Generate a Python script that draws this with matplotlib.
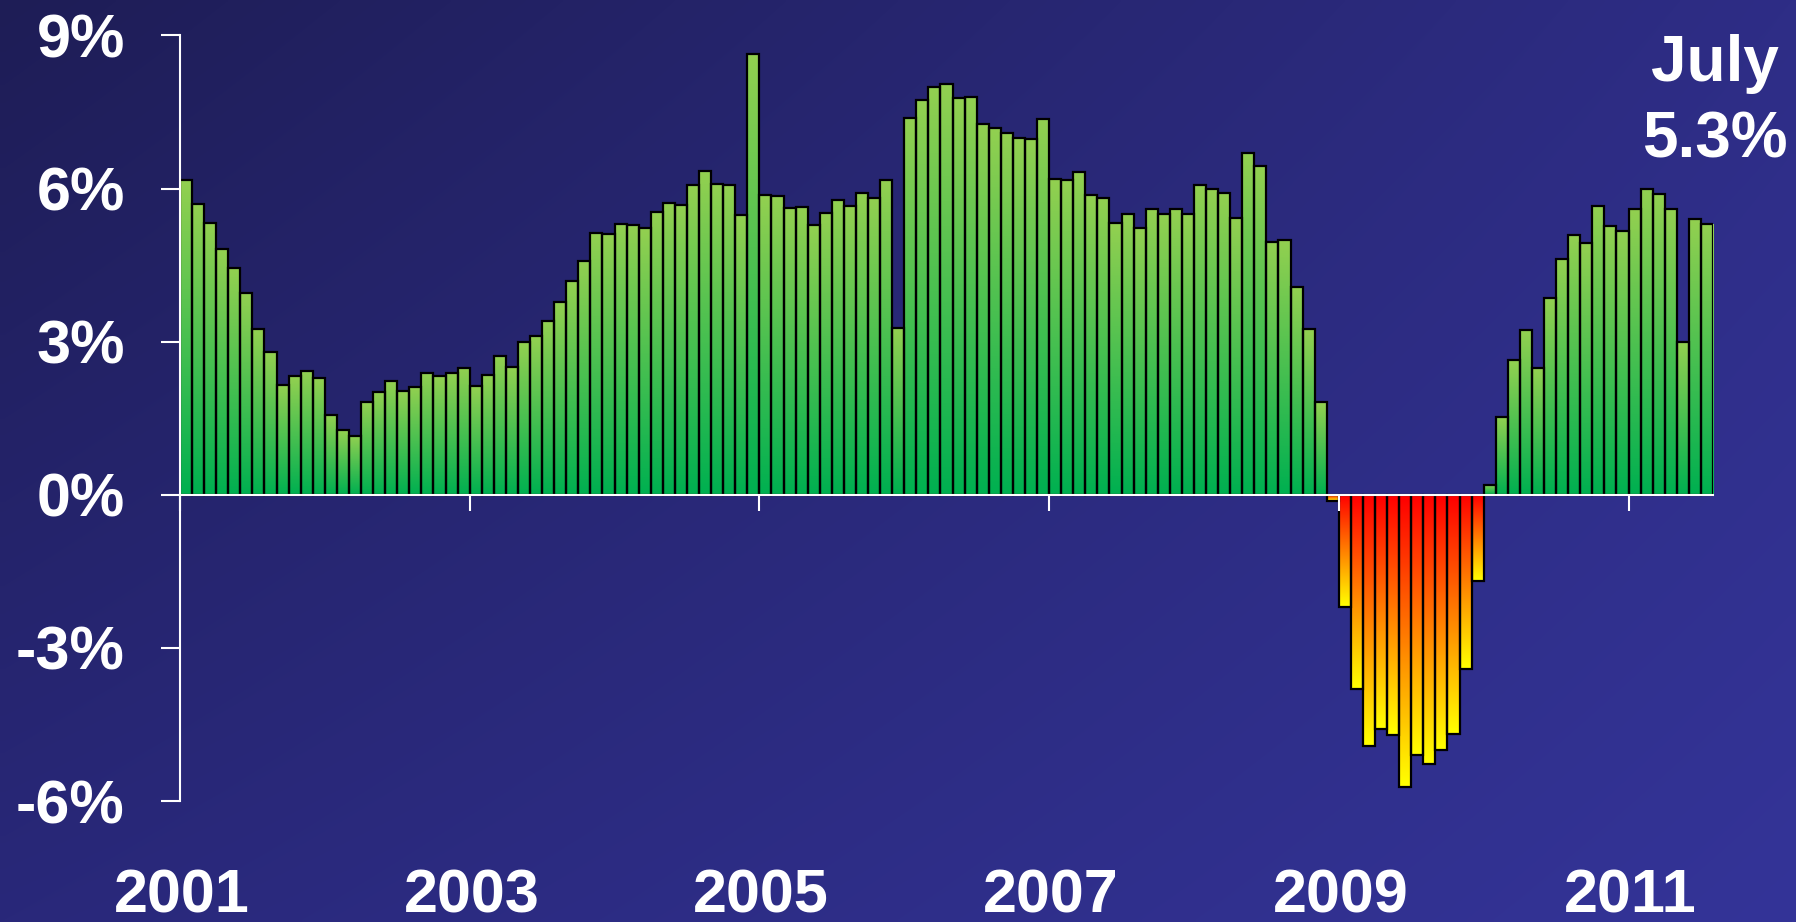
import numpy as np
import matplotlib
matplotlib.use("Agg")
import matplotlib.pyplot as plt
from matplotlib.colors import to_rgb
from matplotlib.transforms import blended_transform_factory

# Year-over-year change by month, Jan 2001 - Jul 2011 (%)
yoy_2001 = [6.16, 5.69, 5.33, 4.81, 4.44, 3.96, 3.24, 2.79, 2.15, 2.32, 2.43, 2.29]
yoy_2002 = [1.57, 1.27, 1.16, 1.82, 2.02, 2.22, 2.03, 2.12, 2.39, 2.32, 2.39, 2.49]
yoy_2003 = [2.13, 2.35, 2.72, 2.50, 2.99, 3.11, 3.41, 3.77, 4.18, 4.59, 5.13, 5.11]
yoy_2004 = [5.31, 5.29, 5.23, 5.54, 5.71, 5.68, 6.07, 6.34, 6.08, 6.07, 5.48, 8.64]
yoy_2005 = [5.87, 5.85, 5.61, 5.63, 5.29, 5.53, 5.78, 5.65, 5.92, 5.82, 6.16, 3.27]
yoy_2006 = [7.39, 7.73, 7.98, 8.05, 7.78, 7.79, 7.27, 7.19, 7.08, 6.99, 6.98, 7.37]
yoy_2007 = [6.19, 6.17, 6.33, 5.87, 5.82, 5.32, 5.50, 5.23, 5.60, 5.51, 5.59, 5.50]
yoy_2008 = [6.06, 5.99, 5.91, 5.42, 6.70, 6.45, 4.96, 5.00, 4.07, 3.24, 1.81, -0.13]
yoy_2009 = [-2.20, -3.80, -4.93, -4.58, -4.71, -5.72, -5.10, -5.28, -4.99, -4.68, -3.41, -1.68]
yoy_2010 = [0.20, 1.53, 2.64, 3.23, 2.48, 3.86, 4.61, 5.09, 4.93, 5.66, 5.27, 5.16]
yoy_2011 = [5.60, 6.00, 5.90, 5.60, 3.00, 5.40, 5.30]

year_labels = ["2001", "2003", "2005", "2007", "2009", "2011"]
y_ticks = [-6, -3, 0, 3, 6, 9]
latest_month = "July"

values = np.array(yoy_2001 + yoy_2002 + yoy_2003 + yoy_2004 + yoy_2005 + yoy_2006
                  + yoy_2007 + yoy_2008 + yoy_2009 + yoy_2010 + yoy_2011)
n = len(values)

plt.rcParams["font.family"] = ["Liberation Sans", "DejaVu Sans"]
plt.rcParams["font.weight"] = "bold"

W, H = 1796, 922
fig = plt.figure(figsize=(W / 100, H / 100), dpi=100)

# Slide background: navy gradient, darker toward the upper left
bg = fig.add_axes([0, 0, 1, 1])
bg.set_axis_off()
tl, tr = np.array(to_rgb("#1e1d56")), np.array(to_rgb("#2e2d86"))
bl, br = np.array(to_rgb("#29287a")), np.array(to_rgb("#343498"))
u = np.linspace(0, 1, 200)[None, :, None]
v = np.linspace(0, 1, 200)[:, None, None]
grad_bg = (1 - v) * ((1 - u) * tl + u * tr) + v * ((1 - u) * bl + u * br)
bg.imshow(grad_bg, extent=(0, 1, 0, 1), aspect="auto", origin="upper",
          interpolation="bilinear")
bg.set_xlim(0, 1)
bg.set_ylim(0, 1)

# Plot area
left_px, right_px, top_px, bottom_px = 180, 1713, 35.4, 801.1
ax = fig.add_axes([left_px / W, (H - bottom_px) / H,
                   (right_px - left_px) / W, (bottom_px - top_px) / H])
ax.set_facecolor("none")

x = np.arange(n)
bars = ax.bar(x, values, width=1.0, align="edge", facecolor="none",
              edgecolor="black", linewidth=1.6, zorder=2)

green_lo, green_hi = np.array(to_rgb("#00b050")), np.array(to_rgb("#92d050"))
red_top, yellow_bot = np.array(to_rgb("#ff0000")), np.array(to_rgb("#ffff00"))
t = np.linspace(0, 1, 64)[:, None, None]
green_grad = (1 - t) * green_lo + t * green_hi      # bottom -> top
neg_grad = (1 - t) * yellow_bot + t * red_top       # bottom -> top

for xi, val, bar in zip(x, values, bars):
    if val >= 0:
        img, lo, hi = green_grad, 0.0, val
    else:
        img, lo, hi = neg_grad, val, 0.0
    im = ax.imshow(img, extent=(xi, xi + 1, lo, hi), aspect="auto",
                   origin="lower", interpolation="bilinear", zorder=1.5)
    im.set_clip_path(bar)

ax.set_xlim(0, n)
ax.set_ylim(-6, 9)
ax.set_axisbelow(False)

for side in ("top", "right"):
    ax.spines[side].set_visible(False)
ax.spines["left"].set_color("white")
ax.spines["left"].set_linewidth(1.5)
ax.spines["left"].set_bounds(-6, 9)
ax.spines["bottom"].set_position(("data", 0))
ax.spines["bottom"].set_color("white")
ax.spines["bottom"].set_linewidth(1.5)
for sp in ax.spines.values():
    sp.set_zorder(5)

ax.set_xticks(np.arange(len(year_labels)) * 24)
ax.tick_params(axis="x", direction="out", length=11.5, width=1.5,
               color="white", labelbottom=False)
ax.set_yticks(y_ticks)
ax.set_yticklabels([f"{v}%" for v in y_ticks])
ax.tick_params(axis="y", direction="out", length=13.7, width=1.5,
               color="white", labelcolor="white", labelsize=44, pad=26)
for lab in ax.get_yticklabels():
    lab.set_fontweight("bold")

# Year labels along the bottom of the slide
trans = blended_transform_factory(ax.transData, fig.transFigure)
for i, yr in enumerate(year_labels):
    ax.text(i * 24 + 0.15, (H - 912) / H, yr, transform=trans, ha="center",
            va="baseline", fontsize=44, color="white", fontweight="bold")

# Latest reading callout
fig.text(1715 / W, (H - 81) / H, latest_month, ha="center", va="baseline",
         fontsize=46, color="white", fontweight="bold")
fig.text(1715 / W, (H - 158) / H, f"{values[-1]:.1f}%", ha="center",
         va="baseline", fontsize=46, color="white", fontweight="bold")

fig.savefig("out.png", dpi=100)
